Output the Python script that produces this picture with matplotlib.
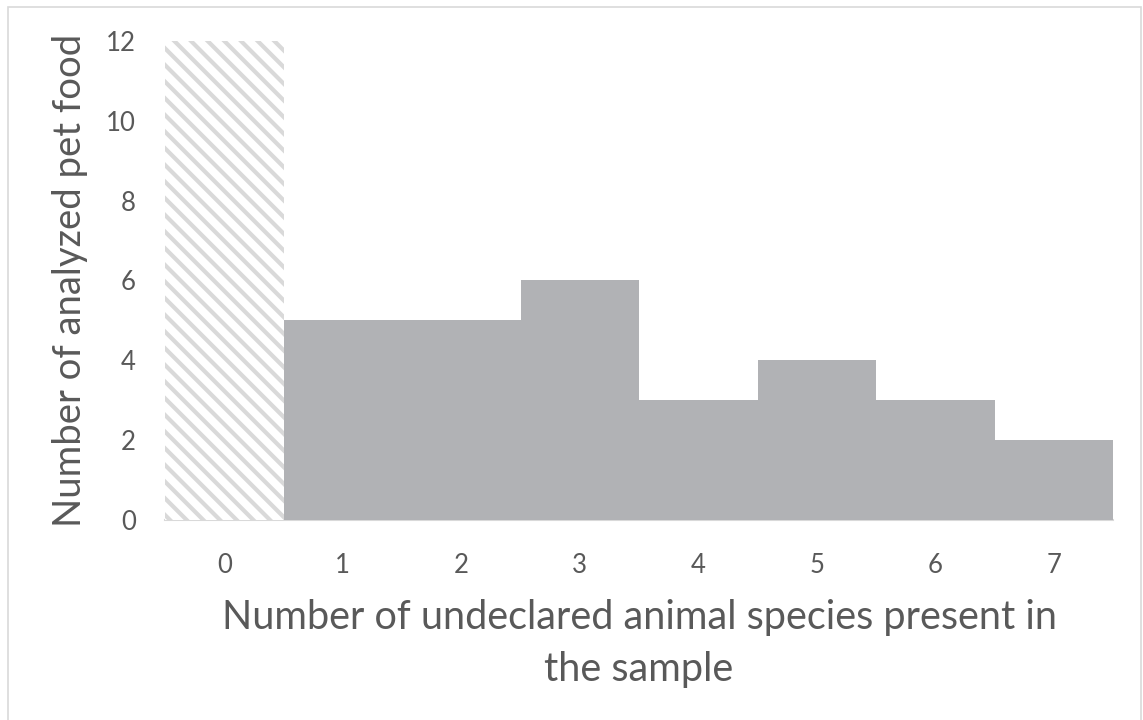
import numpy as np
import matplotlib.pyplot as plt
from matplotlib.patches import Rectangle

plt.rcParams['font.family'] = ['Lato', 'DejaVu Sans']
plt.rcParams['hatch.linewidth'] = 3.0

# Counts of pet food samples by number of undeclared species found
species = [0, 1, 2, 3, 4, 5, 6, 7]
samples = [12, 5, 5, 6, 3, 4, 3, 2]

text_col = '#595959'
bar_col = '#B1B2B5'
line_col = '#D9D9D9'

fig = plt.figure(figsize=(11.43, 7.2), dpi=100)
ax = fig.add_axes([0.1444, 0.2778, 0.8294, 0.6653])

x = np.arange(len(species))
bars = ax.bar(x, samples, width=1.0, color=bar_col, linewidth=0)
# first bar (no undeclared species) drawn hatched
bars[0].set_facecolor('white')
bars[0].set_edgecolor(line_col)
bars[0].set_hatch('\\\\')

ax.set_xlim(-0.5, len(species) - 0.5)
ax.set_ylim(0, 12)
ax.set_xticks(x)
ax.set_xticklabels([str(s) for s in species])
ax.set_yticks(np.arange(0, 13, 2))

for side in ['top', 'right', 'left']:
    ax.spines[side].set_visible(False)
ax.spines['bottom'].set_color(line_col)
ax.spines['bottom'].set_linewidth(1.5)
ax.spines['bottom'].set_zorder(0.5)

ax.tick_params(axis='both', length=0, labelsize=18.5, labelcolor=text_col)
ax.tick_params(axis='x', pad=24)
ax.tick_params(axis='y', pad=21)

ax.set_xlabel('Number of undeclared animal species present in\nthe sample',
              fontsize=28.5, color=text_col, labelpad=15, linespacing=1.5)
ax.set_ylabel('Number of analyzed pet food', fontsize=27.5, color=text_col,
              labelpad=13)

# thin frame round the whole chart
fig.patches.append(Rectangle((8 / 1143, -0.01), 1133 / 1143, 1.01 - 7 / 720,
                             transform=fig.transFigure, fill=False,
                             edgecolor=line_col, linewidth=1.2))

fig.savefig('out.png', dpi=100)
